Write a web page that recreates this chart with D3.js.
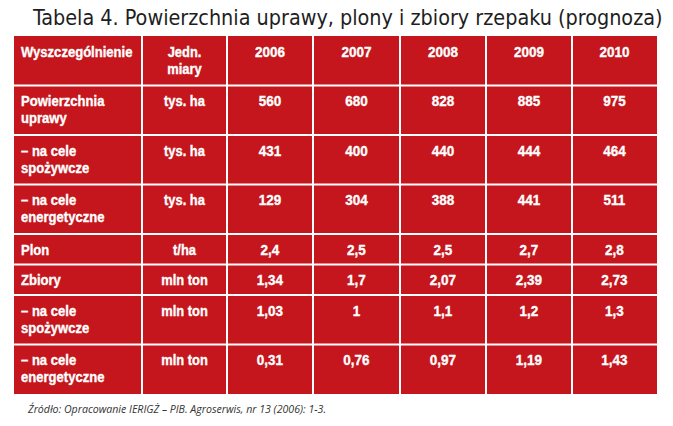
<!DOCTYPE html>
<html><head><meta charset="utf-8">
<script src="https://cdn.jsdelivr.net/npm/d3@7"></script>
<style>
html,body{margin:0;padding:0;background:#fff;}
svg{display:block;}
</style></head>
<body>
<svg id="c" width="673" height="426"></svg>
<script>
const title = "Tabela 4. Powierzchnia uprawy, plony i zbiory rzepaku (prognoza)";
const source = "Źródło: Opracowanie IERIGŻ – PIB. Agroserwis, nr 13 (2006): 1-3.";
const headerLabel = ["Wyszczególnienie"];
const headerUnit = ["Jedn.", "miary"];
const years = [2006, 2007, 2008, 2009, 2010];
const rowLabels = [
  ["Powierzchnia", "uprawy"],
  ["– na cele", "spożywcze"],
  ["– na cele", "energetyczne"],
  ["Plon"],
  ["Zbiory"],
  ["– na cele", "spożywcze"],
  ["– na cele", "energetyczne"]
];
const units = ["tys. ha", "tys. ha", "tys. ha", "t/ha", "mln ton", "mln ton", "mln ton"];
const values = [
  [560, 680, 828, 885, 975],
  [431, 400, 440, 444, 464],
  [129, 304, 388, 441, 511],
  [2.4, 2.5, 2.5, 2.7, 2.8],
  [1.34, 1.7, 2.07, 2.39, 2.73],
  [1.03, 1, 1.1, 1.2, 1.3],
  [0.31, 0.76, 0.97, 1.19, 1.43]
];

const fmt = v => String(v).replace(".", ",");
const svg = d3.select("#c");
const RED = "#c4161c";
const FONT = "'Liberation Sans','Arial',sans-serif";

// layout
const colEdges = [14, 142, 227, 313, 400, 486, 572, 657];
const top0 = 36;
const lineH = n => n === 2 ? 49.5 : 30.5;
const rowsAll = [{label: headerLabel, unit: headerUnit, vals: years.map(String), n: 2}]
  .concat(rowLabels.map((l, i) => ({label: l, unit: [units[i]], vals: values[i].map(fmt), n: l.length})));
let yy = top0;
rowsAll.forEach(r => { r.y0 = yy; yy += lineH(r.n); r.y1 = yy; });
const bottom = yy;

// title (font size fitted to the reference width)
const tt = svg.append("text").attr("x", 33).attr("y", 25)
  .attr("font-family", "'DejaVu Sans Condensed','DejaVu Sans',sans-serif")
  .attr("font-stretch", "condensed")
  .attr("font-size", 22).attr("fill", "#1e1e1e")
  .text(title);
const tw = tt.node().getComputedTextLength();
tt.attr("font-size", Math.min(24, 22 * 630 / tw));

// background
svg.append("rect").attr("x", colEdges[0]).attr("y", top0)
  .attr("width", colEdges[colEdges.length - 1] - colEdges[0]).attr("height", bottom - top0)
  .attr("fill", RED);

// grid lines
svg.selectAll("line.v").data(colEdges.slice(1, -1)).join("line").attr("class", "v")
  .attr("x1", d => d).attr("x2", d => d).attr("y1", top0).attr("y2", bottom)
  .attr("stroke", "#fff").attr("stroke-width", 2);
svg.selectAll("line.h").data(rowsAll.slice(1)).join("line").attr("class", "h")
  .attr("x1", colEdges[0]).attr("x2", colEdges[colEdges.length - 1])
  .attr("y1", d => d.y0).attr("y2", d => d.y0)
  .attr("stroke", "#fff").attr("stroke-width", 2);

const cx = i => (colEdges[i] + colEdges[i + 1]) / 2;
const g = svg.append("g").attr("font-family", FONT).attr("font-weight", "bold")
  .attr("font-size", 14.5).attr("fill", "#fff")
  .attr("stroke", "#fff").attr("stroke-width", 0.35);

function squeeze(sel, f) {
  const w = sel.node().getComputedTextLength();
  sel.attr("textLength", w * f).attr("lengthAdjust", "spacingAndGlyphs");
  return sel;
}

rowsAll.forEach(r => {
  const by = r.y0 + 20.5;
  r.label.forEach((t, k) => squeeze(g.append("text").attr("x", 21).attr("y", by + k * 17).text(t), 0.9));
  r.unit.forEach((t, k) => squeeze(g.append("text").attr("x", cx(1)).attr("y", by + k * 17)
    .attr("text-anchor", "middle").text(t), 0.89));
  r.vals.forEach((t, j) => squeeze(g.append("text").attr("x", cx(j + 2)).attr("y", by)
    .attr("text-anchor", "middle").text(t), 0.93));
});

// source
svg.append("text").attr("x", 28).attr("y", 413)
  .attr("font-family", "'Open Sans','DejaVu Sans',sans-serif").attr("font-style", "italic")
  .attr("font-size", 10.6).attr("fill", "#333")
  .text(source);
</script>
</body></html>
